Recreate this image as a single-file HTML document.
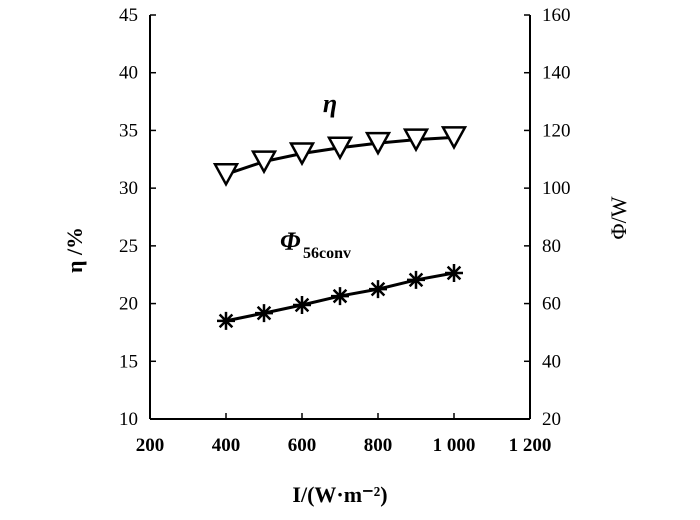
<!DOCTYPE html>
<html><head><meta charset="utf-8"><style>
body{margin:0;background:#fff;}
svg text{font-family:"Liberation Serif",serif;fill:#000;}
</style></head><body>
<svg id="chart" width="700" height="515" xmlns="http://www.w3.org/2000/svg"></svg>
<script>
const xValues=[400,500,600,700,800,900,1000];
const etaValues=[31.2,32.3,33.0,33.5,33.9,34.2,34.4];
const phiValues=[54,56.7,59.5,62.6,65,68.2,70.6];
const xTicks=[200,400,600,800,1000,1200];
const xTickLabels=["200","400","600","800","1 000","1 200"];
const yLeftTicks=[10,15,20,25,30,35,40,45];
const yRightTicks=[20,40,60,80,100,120,140,160];

const L=150,R=530,T=15,B=419;
const sx=v=>L+(v-200)/1000*(R-L);
const syL=v=>B-(v-10)/35*(B-T);
const syR=v=>B-(v-20)/140*(B-T);
const svg=document.getElementById('chart');
const NS='http://www.w3.org/2000/svg';
function mk(tag,attrs,name,txt){const e=document.createElementNS(NS,tag);for(const k in attrs)e.setAttribute(k,attrs[k]);


if(txt!==undefined)e.textContent=txt;svg.appendChild(e);return e;}
mk('line',{x1:L,y1:T,x2:L,y2:B,stroke:'#000','stroke-width':2},'left-axis');
mk('line',{x1:R,y1:T,x2:R,y2:B,stroke:'#000','stroke-width':2},'right-axis');
mk('line',{x1:L,y1:B,x2:R,y2:B,stroke:'#000','stroke-width':2},'x-axis');
xTicks.forEach((v,i)=>{mk('line',{x1:sx(v),y1:B,x2:sx(v),y2:B-6,stroke:'#000','stroke-width':1.5},'x-tick');
mk('text',{x:sx(v),y:B+32,'text-anchor':'middle','font-size':19,'font-weight':'600'},'x-tick-label',xTickLabels[i]);});
yLeftTicks.forEach(v=>{mk('line',{x1:L,y1:syL(v),x2:L+6,y2:syL(v),stroke:'#000','stroke-width':1.5},'y-left-tick');
mk('text',{x:L-12,y:syL(v)+6,'text-anchor':'end','font-size':19},'y-left-tick-label',String(v));});
yRightTicks.forEach(v=>{mk('line',{x1:R,y1:syR(v),x2:R-6,y2:syR(v),stroke:'#000','stroke-width':1.5},'y-right-tick');
mk('text',{x:R+12,y:syR(v)+6,'text-anchor':'start','font-size':19},'y-right-tick-label',String(v));});
mk('polyline',{points:xValues.map((x,i)=>sx(x)+','+syL(etaValues[i])).join(' '),fill:'none',stroke:'#000','stroke-width':3},'eta-line');
mk('polyline',{points:xValues.map((x,i)=>sx(x)+','+syR(phiValues[i])).join(' '),fill:'none',stroke:'#000','stroke-width':3},'phi-line');
xValues.forEach((x,i)=>{const cx=sx(x),cy=syL(etaValues[i]);
mk('polygon',{points:`${cx-11},${cy-10} ${cx+11},${cy-10} ${cx},${cy+10}`,fill:'#fff',stroke:'#000','stroke-width':2.5},'eta-marker');});
xValues.forEach((x,i)=>{const cx=sx(x),cy=syR(phiValues[i]);let d='';
for(let a=0;a<4;a++){const t=a*Math.PI/4;d+=`M${cx-9*Math.cos(t)},${cy-9*Math.sin(t)}L${cx+9*Math.cos(t)},${cy+9*Math.sin(t)}`;}
mk('path',{d:d,stroke:'#000','stroke-width':2.5},'phi-marker');});
mk('text',{x:330,y:112,'font-size':26,'font-style':'italic','font-weight':'bold','text-anchor':'middle'},'eta-series-label','η');
mk('text',{x:280,y:250,'font-size':26,'font-style':'italic','font-weight':'bold'},'phi-series-label','Φ');
mk('text',{x:303,y:258,'font-size':16,'font-weight':'bold'},'phi-series-subscript','56conv');
mk('text',{x:340,y:502,'font-size':22,'font-weight':'bold','text-anchor':'middle'},'x-axis-title','I/(W·m⁻²)');
mk('text',{x:0,y:0,'font-size':22,'font-weight':'bold','text-anchor':'middle',transform:'translate(82,250) rotate(-90)'},'y-left-title','η /%');
mk('text',{x:0,y:0,'font-size':22,'text-anchor':'middle',transform:'translate(626,218) rotate(-90)'},'y-right-title','Φ/W');
</script>
</body></html>
